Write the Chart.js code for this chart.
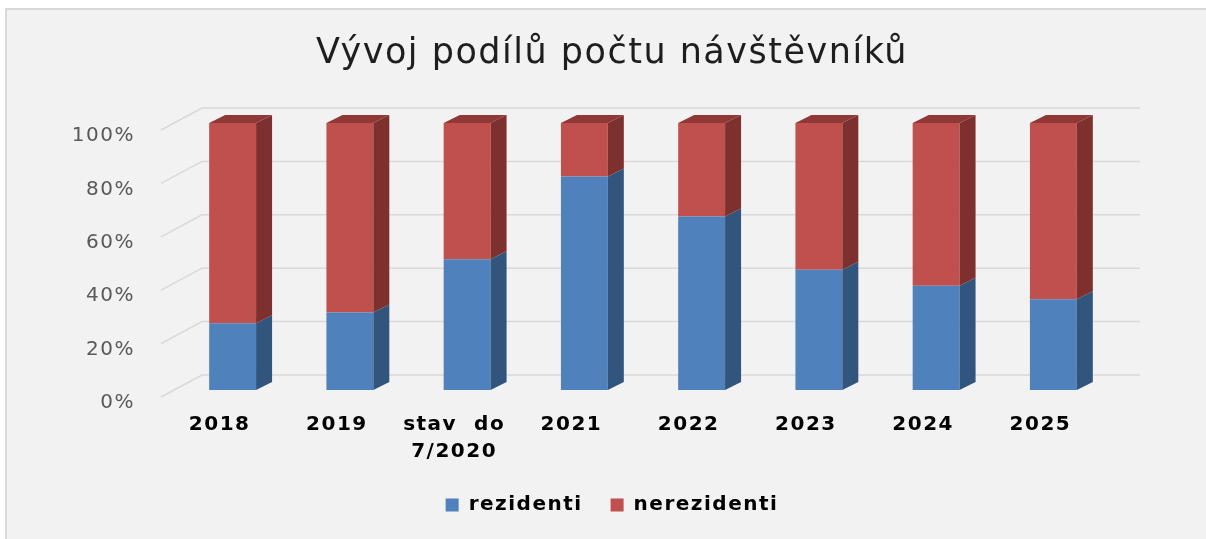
<!DOCTYPE html>
<html lang="cs">
<head>
<meta charset="utf-8">
<title>Vývoj podílů počtu návštěvníků</title>
<script src="https://cdn.jsdelivr.net/npm/chart.js@4.4.1/dist/chart.umd.min.js"></script>
<style>
  html, body { margin: 0; padding: 0; background: #fff; }
  #wrap { width: 1206px; height: 539px; }
</style>
</head>
<body>
<div id="wrap"><canvas id="chart" width="1206" height="539"></canvas></div>
<script>
// 100% stacked "3D" column chart: share of residents vs non-residents per year.

const categories = ["2018", "2019", ["stav  do", "7/2020"], "2021", "2022", "2023", "2024", "2025"];
const rezidenti = [25, 29, 49, 80, 65, 45, 39, 34];
const nerezidenti = [75, 71, 51, 20, 35, 55, 61, 66];
const yTicks = [0, 20, 40, 60, 80, 100];

// fake 3D geometry (px)
const SHIFT_X = 13, SHIFT_Y = 7;   // bar front face vs. axis plane
const DEPTH_X = 16, DEPTH_Y = 8;   // bar depth
const WALL_X = 41, WALL_Y = 22;    // back wall vs. axis plane

const sideColors = ["#32557e", "#7e302f"];
const topColors = ["#3d6796", "#8f3836"];

const FONT = "'DejaVu Sans', sans-serif";

// the reference text is set a little wider than DejaVu
const spacing = {
  id: "spacing",
  beforeLayout(chart) { chart.ctx.letterSpacing = "1.5px"; },
  beforeDraw(chart) { chart.ctx.letterSpacing = "1.5px"; },
};

const frame = {
  id: "frame",
  beforeDraw(chart) {
    const { ctx, width, height } = chart;
    ctx.save();
    ctx.fillStyle = "#ffffff";
    ctx.fillRect(0, 0, width, height);
    ctx.fillStyle = "#f2f2f2";
    ctx.fillRect(6, 9, width, height);
    ctx.strokeStyle = "#d9d9d9";
    ctx.lineWidth = 2;
    ctx.beginPath();
    ctx.moveTo(6, height);
    ctx.lineTo(6, 9);
    ctx.lineTo(width, 9);
    ctx.stroke();
    ctx.restore();
  },
};

const fake3d = {
  id: "fake3d",
  beforeDatasetsDraw(chart) {
    const { ctx, chartArea } = chart;
    const ys = chart.scales.y;
    ctx.save();
    ctx.strokeStyle = "#d9d9d9";
    ctx.lineWidth = 1.5;
    ys.ticks.forEach((t) => {
      const y = ys.getPixelForValue(t.value);
      ctx.beginPath();
      ctx.moveTo(chartArea.left, y);
      ctx.lineTo(chartArea.left + WALL_X, y - WALL_Y);
      ctx.lineTo(chartArea.right + WALL_X, y - WALL_Y);
      ctx.stroke();
    });
    ctx.restore();
    // bars sit a bit behind the axis plane
    ctx.save();
    ctx.translate(SHIFT_X, -SHIFT_Y);
  },
  afterDatasetsDraw(chart) {
    const { ctx } = chart;
    const last = chart.data.datasets.length - 1;
    chart.data.datasets.forEach((ds, i) => {
      const meta = chart.getDatasetMeta(i);
      meta.data.forEach((bar) => {
        const { x, y, base, width } = bar.getProps(["x", "y", "base", "width"], true);
        const x1 = x - width / 2, x2 = x + width / 2;
        const top = Math.min(y, base), bottom = Math.max(y, base);
        if (bottom - top < 0.5) return;
        ctx.fillStyle = sideColors[i];
        ctx.beginPath();
        ctx.moveTo(x2, bottom);
        ctx.lineTo(x2, top);
        ctx.lineTo(x2 + DEPTH_X, top - DEPTH_Y);
        ctx.lineTo(x2 + DEPTH_X, bottom - DEPTH_Y);
        ctx.closePath();
        ctx.fill();
        if (i === last) {
          ctx.fillStyle = topColors[i];
          ctx.beginPath();
          ctx.moveTo(x1, top);
          ctx.lineTo(x1 + DEPTH_X, top - DEPTH_Y);
          ctx.lineTo(x2 + DEPTH_X, top - DEPTH_Y);
          ctx.lineTo(x2, top);
          ctx.closePath();
          ctx.fill();
        }
      });
    });
    ctx.restore();
  },
};

new Chart(document.getElementById("chart"), {
  type: "bar",
  data: {
    labels: categories,
    datasets: [
      { label: "rezidenti", data: rezidenti, backgroundColor: "#4f81bd" },
      { label: "nerezidenti", data: nerezidenti, backgroundColor: "#c0504d" },
    ],
  },
  options: {
    responsive: false,
    animation: false,
    events: [],
    layout: { padding: { top: 0, left: 20, right: 2, bottom: 14 } },
    datasets: {
      bar: { barPercentage: 0.4, categoryPercentage: 1, borderWidth: 0, clip: false },
    },
    scales: {
      x: {
        stacked: true,
        grid: { display: false },
        border: { display: false },
        ticks: {
          color: "#000",
          padding: 6,
          maxRotation: 0,
          autoSkip: false,
          font: { family: FONT, size: 20, weight: "bold", lineHeight: 1.35 },
        },
        afterFit: (s) => { s.height = 70; },
      },
      y: {
        stacked: true,
        min: 0,
        max: 100,
        grid: { display: false, drawTicks: false },
        border: { display: false },
        afterBuildTicks: (s) => { s.ticks = yTicks.map((v) => ({ value: v })); },
        afterFit: (s) => { s.width = 141; },
        ticks: {
          color: "#595959",
          padding: 26,
          labelOffset: 6,
          font: { family: FONT, size: 20 },
          callback: (v) => v + "%",
        },
      },
      // empty spacer on the right so the plot ends where the reference's does
      spacer: {
        type: "linear",
        position: "right",
        display: true,
        grid: { display: false },
        border: { display: false },
        ticks: { display: false },
        afterFit: (s) => { s.width = 105; },
      },
    },
    plugins: {
      title: {
        display: true,
        text: "Vývoj podílů počtu návštěvníků",
        color: "#1e1e1e",
        font: { family: FONT, size: 35, weight: "normal", lineHeight: 1.2 },
        padding: { top: 33, bottom: 55 },
      },
      legend: {
        position: "bottom",
        labels: {
          color: "#000",
          boxWidth: 13,
          boxHeight: 13,
          padding: 28,
          font: { family: FONT, size: 20, weight: "bold" },
        },
      },
      tooltip: { enabled: false },
    },
  },
  plugins: [spacing, frame, fake3d],
});
</script>
</body>
</html>
